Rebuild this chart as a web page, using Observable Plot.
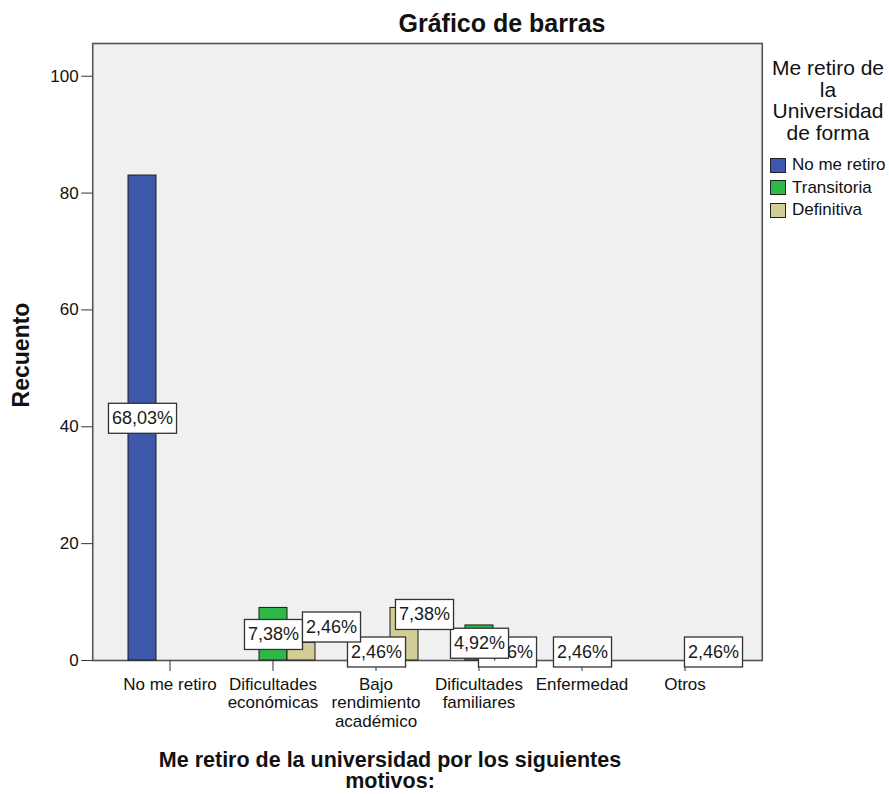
<!DOCTYPE html>
<html>
<head>
<meta charset="utf-8">
<script src="https://cdn.jsdelivr.net/npm/d3@7"></script>
<script src="https://cdn.jsdelivr.net/npm/@observablehq/plot@0.6"></script>
<style>
  html, body { margin: 0; padding: 0; background: #fff; }
  #wrap { position: relative; width: 889px; height: 794px; font-family: "Liberation Sans", Arial, sans-serif; color: #111; }
  #title { position: absolute; left: 502px; top: 11px; transform: translateX(-50%); font-weight: bold; font-size: 25px; line-height: 25px; white-space: nowrap; }
  #chart { position: absolute; left: 0; top: 42px; }
  #ylabel { position: absolute; left: 21px; top: 355px; transform: translate(-50%, -50%) rotate(-90deg); font-weight: bold; font-size: 23px; white-space: nowrap; }
  #xlabel { position: absolute; left: 390px; top: 750px; transform: translateX(-50%); font-weight: bold; font-size: 21.5px; line-height: 21px; text-align: center; white-space: nowrap; }
  #legendTitle { position: absolute; left: 767px; width: 122px; top: 57px; font-size: 21px; line-height: 21.7px; text-align: center; }
  #legendItems { position: absolute; left: 770px; top: 154px; font-size: 17px; line-height: 22.5px; }
  .item { display: flex; align-items: center; white-space: nowrap; height: 22.5px; }
  .sw { width: 14px; height: 13px; border: 1px solid #222; margin-right: 6px; box-sizing: content-box; }
</style>
</head>
<body>
<div id="wrap">
  <div id="title">Gráfico de barras</div>
  <div id="chart"></div>
  <div id="ylabel">Recuento</div>
  <div id="xlabel">Me retiro de la universidad por los siguientes<br>motivos:</div>
  <div id="legendTitle">Me retiro de<br>la<br>Universidad<br>de forma</div>
  <div id="legendItems"></div>
</div>
<script>
// ---- data ----
const categories = ["No me retiro", "Dificultades económicas", "Bajo rendimiento académico", "Dificultades familiares", "Enfermedad", "Otros"];
const tickLabels = ["No me retiro", "Dificultades\neconómicas", "Bajo\nrendimiento\nacadémico", "Dificultades\nfamiliares", "Enfermedad", "Otros"];
const seriesNames = ["No me retiro", "Transitoria", "Definitiva"];
const seriesColors = ["#3E58AC", "#2EB848", "#D3CE97"];
const countNoMeRetiro = [83, 0, 0, 0, 0, 0];
const countTransitoria = [0, 9, 3, 6, 3, 0];
const countDefinitiva = [0, 3, 9, 3, 0, 3];
const yTicks = [0, 20, 40, 60, 80, 100];

const seriesCounts = [countNoMeRetiro, countTransitoria, countDefinitiva];
const rows = [];
categories.forEach((c, i) => {
  seriesNames.forEach((s, j) => {
    const v = seriesCounts[j][i];
    if (v > 0) rows.push({category: c, series: s, count: v});
  });
});
const total = d3.sum(rows, d => d.count);
const pct = d => (d.count / total * 100).toFixed(2).replace(".", ",") + "%";

const isShiftA = d => d.category === categories[1] && d.series === "Definitiva";
const isShiftB = d => d.category === categories[2] && d.series === "Definitiva";

// layout
const W = 889, H = 690, mL = 92, mR = 127, padOuter = 0.25;
const outerInset = padOuter * (W - mL - mR) / (categories.length + 2 * padOuter);

const textOpts = {
  fx: "category", x: "series", y: d => d.count / 2, text: pct,
  fontSize: 18, fill: "#1a1a1a", textAnchor: "middle", lineAnchor: "middle"
};

const plot = Plot.plot({
  width: W,
  height: H,
  marginTop: 1,
  marginBottom: 72,
  marginLeft: mL,
  marginRight: mR,
  style: {fontFamily: "'Liberation Sans', Arial, sans-serif", fontSize: "17px", background: "transparent", color: "#111", overflow: "visible"},
  fx: {domain: categories, paddingInner: 0, paddingOuter: padOuter, label: null},
  x: {domain: seriesNames, paddingInner: 0, paddingOuter: 0.311, axis: null},
  y: {domain: [0, 105.6], label: null},
  color: {domain: seriesNames, range: seriesColors},
  marks: [
    Plot.frame({facet: "super", fill: "#f0f0f0", stroke: "#555", strokeWidth: 1.6, insetLeft: -outerInset, insetRight: -outerInset}),
    Plot.barY(rows, {fx: "category", x: "series", y: "count", fill: "series", stroke: "#1a1a1a", strokeWidth: 1}),
    Plot.axisY({ticks: yTicks, tickSize: 11, tickPadding: 3, fontSize: 17, label: null, stroke: "#333", dx: -outerInset}),
    Plot.axisFx({anchor: "bottom", tickSize: 11, tickPadding: 5, fontSize: 17, lineHeight: 1.09, label: null,
      tickFormat: d => tickLabels[categories.indexOf(d)], stroke: "#333"}),
    Plot.text(rows.filter(d => !isShiftA(d) && !isShiftB(d)), {...textOpts, reverse: true}),
    Plot.text(rows.filter(isShiftA), {...textOpts, dx: 30, dy: -25}),
    Plot.text(rows.filter(isShiftB), {...textOpts, dx: 20, dy: -20})
  ]
});

document.getElementById("chart").append(plot);

// white label boxes behind percentage texts
const svgNS = "http://www.w3.org/2000/svg";
Array.from(plot.querySelectorAll("text"))
  .filter(t => /%$/.test(t.textContent.trim()))
  .forEach(t => {
    const b = t.getBBox();
    const r = document.createElementNS(svgNS, "rect");
    r.setAttribute("x", b.x - 3.5);
    r.setAttribute("y", b.y - 4.5);
    r.setAttribute("width", b.width + 7);
    r.setAttribute("height", b.height + 10);
    r.setAttribute("fill", "#fff");
    r.setAttribute("stroke", "#333");
    r.setAttribute("stroke-width", 1.3);
    const tr = t.getAttribute("transform");
    if (tr) r.setAttribute("transform", tr);
    t.parentNode.insertBefore(r, t);
  });

// legend from the plot's color scale
const color = plot.scale("color");
const legend = document.getElementById("legendItems");
color.domain.forEach((d, i) => {
  const item = document.createElement("div");
  item.className = "item";
  const sw = document.createElement("div");
  sw.className = "sw";
  sw.style.background = color.range[i];
  item.append(sw, document.createTextNode(d));
  legend.append(item);
});
</script>
</body>
</html>
